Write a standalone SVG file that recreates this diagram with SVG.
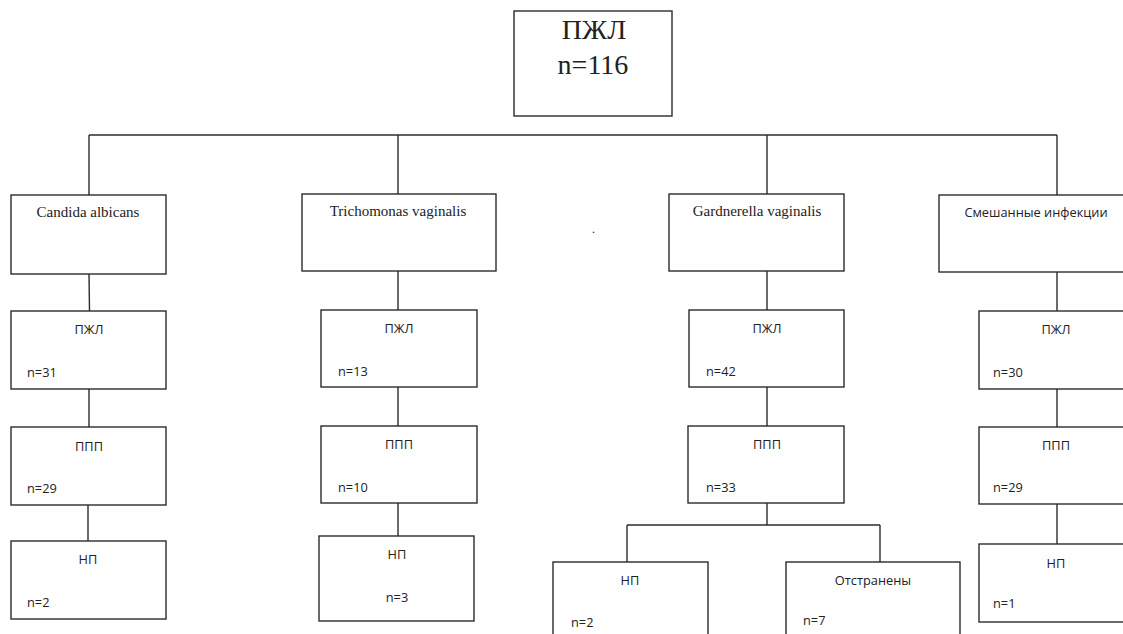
<svg xmlns="http://www.w3.org/2000/svg" width="1123" height="634" viewBox="0 0 1123 634">
<style>
rect{fill:#fff;stroke:#2b2b2b;stroke-width:1.4}
.c line{stroke:#2b2b2b;stroke-width:1.4}
.s{font-family:"Liberation Serif","Times New Roman",serif;fill:#222;font-size:15px}
.t{font-family:"Liberation Serif","Times New Roman",serif;fill:#222;font-size:28px;text-anchor:middle}
.a{font-family:"Open Sans","Noto Sans",sans-serif;fill:#222;font-size:12.8px}
.m{text-anchor:middle}
</style>
<rect x="0" y="0" width="1123" height="634" style="fill:#fff;stroke:none"/>
<g class="c" id="connectors">
<line x1="89" y1="135" x2="1057" y2="135"/>
<line x1="89" y1="135" x2="89" y2="195"/>
<line x1="398" y1="135" x2="398" y2="194"/>
<line x1="767" y1="135" x2="767" y2="194"/>
<line x1="1057" y1="135" x2="1057" y2="195"/>
<line x1="89" y1="274" x2="89.5" y2="311"/>
<line x1="89" y1="389" x2="89" y2="427"/>
<line x1="88" y1="505" x2="88" y2="541"/>
<line x1="398" y1="271" x2="398" y2="310"/>
<line x1="398" y1="387" x2="398" y2="426"/>
<line x1="398" y1="503" x2="398" y2="536"/>
<line x1="767" y1="271" x2="767" y2="310"/>
<line x1="767" y1="387" x2="767" y2="426"/>
<line x1="767" y1="503" x2="767" y2="525"/>
<line x1="627" y1="525" x2="880" y2="525"/>
<line x1="627" y1="525" x2="627" y2="562"/>
<line x1="880" y1="525" x2="880" y2="562"/>
<line x1="1057" y1="272" x2="1057" y2="311"/>
<line x1="1057" y1="389" x2="1057" y2="427"/>
<line x1="1057" y1="504" x2="1057" y2="544"/>
</g>
<g id="root"><rect x="514" y="11" width="158" height="105"/><text class="t" x="594" y="39">ПЖЛ</text><text class="t" x="593" y="74">n=116</text></g>
<g id="candida"><rect x="11" y="195" width="155" height="79"/><text class="s m" x="88" y="217">Candida albicans</text></g>
<g id="candida-pzhl"><rect x="11" y="311" width="155" height="78"/><text class="a m" x="89" y="334">ПЖЛ</text><text class="a" x="27" y="377">n=31</text></g>
<g id="candida-ppp"><rect x="11" y="427" width="155" height="78"/><text class="a m" x="89" y="451">ППП</text><text class="a" x="27" y="493">n=29</text></g>
<g id="candida-np"><rect x="11" y="541" width="155" height="78"/><text class="a m" x="88" y="564">НП</text><text class="a" x="27" y="607">n=2</text></g>
<g id="trich"><rect x="302" y="194" width="194" height="77"/><text class="s m" x="398" y="216">Trichomonas vaginalis</text></g>
<g id="trich-pzhl"><rect x="321" y="310" width="156" height="77"/><text class="a m" x="399" y="333">ПЖЛ</text><text class="a" x="338" y="376">n=13</text></g>
<g id="trich-ppp"><rect x="321" y="426" width="156" height="77"/><text class="a m" x="399" y="449">ППП</text><text class="a" x="338" y="492">n=10</text></g>
<g id="trich-np"><rect x="319" y="536" width="155" height="85"/><text class="a m" x="397" y="559">НП</text><text class="a m" x="397" y="602">n=3</text></g>
<text class="s" x="592" y="233" style="font-size:12px">.</text>
<g id="gard"><rect x="669" y="194" width="175" height="77"/><text class="s m" x="757" y="216">Gardnerella vaginalis</text></g>
<g id="gard-pzhl"><rect x="689" y="310" width="155" height="77"/><text class="a m" x="767" y="333">ПЖЛ</text><text class="a" x="706" y="376">n=42</text></g>
<g id="gard-ppp"><rect x="688" y="426" width="156" height="77"/><text class="a m" x="767" y="449">ППП</text><text class="a" x="706" y="492">n=33</text></g>
<g id="gard-np"><rect x="553" y="562" width="155" height="80"/><text class="a m" x="630" y="585">НП</text><text class="a" x="571" y="627">n=2</text></g>
<g id="gard-otstr"><rect x="786" y="562" width="174" height="80"/><text class="a m" x="873" y="585">Отстранены</text><text class="a" x="803" y="625">n=7</text></g>
<g id="mixed"><rect x="939" y="195" width="190" height="77"/><text class="a m" x="1036" y="217">Смешанные инфекции</text></g>
<g id="mixed-pzhl"><rect x="979" y="311" width="155" height="78"/><text class="a m" x="1056" y="334">ПЖЛ</text><text class="a" x="993" y="377">n=30</text></g>
<g id="mixed-ppp"><rect x="979" y="427" width="155" height="77"/><text class="a m" x="1056" y="450">ППП</text><text class="a" x="993" y="492">n=29</text></g>
<g id="mixed-np"><rect x="979" y="544" width="155" height="78"/><text class="a m" x="1056" y="568">НП</text><text class="a" x="993" y="608">n=1</text></g>
</svg>
